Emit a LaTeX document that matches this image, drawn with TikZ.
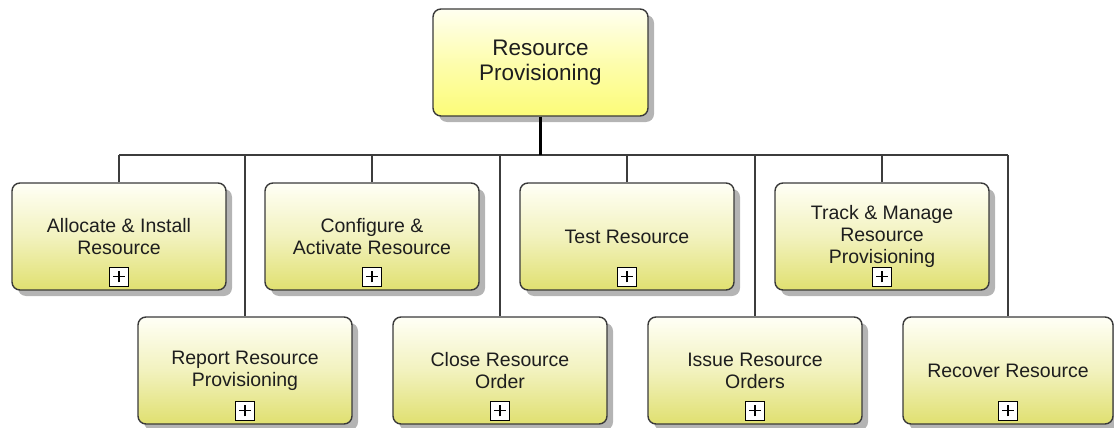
\documentclass[tikz,border=0pt]{standalone}
\usepackage{fontspec}
\setmainfont{Liberation Sans}
\usetikzlibrary{shadows,calc}
\definecolor{boxline}{HTML}{3A3A3A}
\definecolor{kidtop}{HTML}{FFFFF6}
\definecolor{kidmid}{HTML}{F2F2BE}
\definecolor{kidbot}{HTML}{E0E070}
\definecolor{roottop}{HTML}{FFFFF0}
\definecolor{rootbot}{HTML}{FCFC78}
\definecolor{shadowgray}{HTML}{B4B4B4}
\definecolor{wire}{HTML}{3C3C3C}
\definecolor{txt}{HTML}{1E1E1E}
\tikzset{
  procbox/.style={draw=boxline, line width=1.4pt, rounded corners=8pt,
    minimum width=214pt, minimum height=107pt, inner sep=2pt,
    align=center, text=txt,
    drop shadow={shadow xshift=6pt, shadow yshift=-6pt, fill=shadowgray, opacity=1},
    top color=kidtop, bottom color=kidbot, middle color=kidmid},
  kidbox/.style={procbox, font=\fontsize{19.5}{22}\selectfont},
  rootbox/.style={procbox, minimum width=215pt, top color=roottop, bottom color=rootbot,
    middle color=roottop!45!rootbot, font=\fontsize{22.5}{24.5}\selectfont},
  plusicon/.style={draw=black, line width=1.1pt, fill=white, minimum size=19pt, inner sep=0pt,
    path picture={\draw[black, line width=1.4pt]
      ($(path picture bounding box.west)!0.2!(path picture bounding box.east)$) --
      ($(path picture bounding box.west)!0.8!(path picture bounding box.east)$)
      ($(path picture bounding box.south)!0.2!(path picture bounding box.north)$) --
      ($(path picture bounding box.south)!0.8!(path picture bounding box.north)$);}},
  thinwire/.style={draw=wire, line width=1.4pt},
  barwire/.style={draw=wire, line width=2pt},
  thickwire/.style={draw=black, line width=3pt}
}
\begin{document}
\begin{tikzpicture}[x=1pt,y=-1pt]
\useasboundingbox (0,0) rectangle (1114,428);
\node[rootbox] (root) at (540.5,62.5) {Resource\\Provisioning};
% row 1
\node[kidbox] (alloc) at (119,236.5) {Allocate \& Install\\Resource};
\node[kidbox] (config) at (372,236.5) {Configure \&\\Activate Resource};
\node[kidbox] (test) at (627,236.5) {Test Resource};
\node[kidbox] (track) at (882,236.5) {Track \& Manage\\Resource\\Provisioning};
% row 2
\node[kidbox] (report) at (245,370.5) {Report Resource\\Provisioning};
\node[kidbox] (close) at (500,370.5) {Close Resource\\Order};
\node[kidbox] (issue) at (755,370.5) {Issue Resource\\Orders};
\node[kidbox, minimum width=210pt] (recover) at (1008,370.5) {Recover Resource};
% plus icons
\foreach \b in {alloc,config,test,track,report,close,issue,recover}{
  \node[plusicon, anchor=south] (plus-\b) at ([yshift=4pt]\b.south) {};
}
% connectors
\coordinate (bar) at (540,155);
\draw[barwire] (alloc.north |- bar) -- (recover.north |- bar);
\draw[thickwire] (root.south) -- (root.south |- bar);
\foreach \b in {alloc,config,test,track,report,close,issue,recover}{
  \draw[thinwire] (\b.north) -- (\b.north |- bar);
}
\end{tikzpicture}
\end{document}
